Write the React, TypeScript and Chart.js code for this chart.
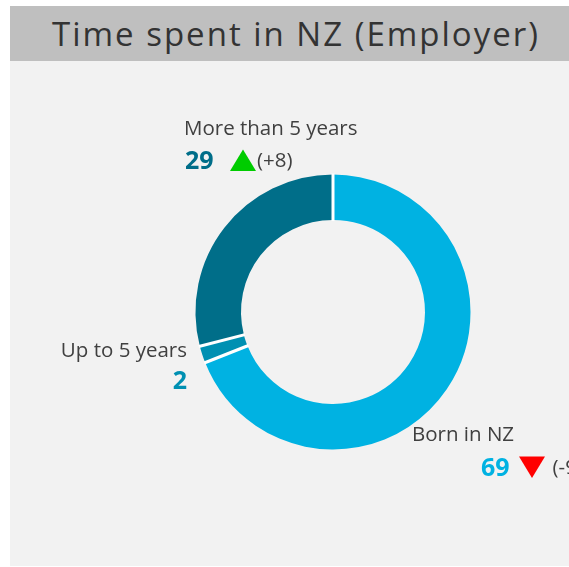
import React, { useEffect, useRef } from "react";
import { Chart, registerables } from "chart.js";

Chart.register(...registerables);

const TITLE = "Time spent in NZ (Employer)";
const categories = ["Born in NZ", "Up to 5 years", "More than 5 years"];
const values = [69, 2, 29];
const changes: (number | null)[] = [-9, null, 8];
const sliceColors = ["#00B2E2", "#0090B2", "#006E89"];

// label anchor offsets relative to doughnut centre (layout only)
const labelLayout = [
  { dx: 79, dy: 128.5, align: "left" as const, numDx: 148, numDy: 163.5, triDx: 186, chDx: 219.5 },
  { dx: -146, dy: 44.5, align: "right" as const, numDx: -146, numDy: 76.5, triDx: 0, chDx: 0 },
  { dx: -149, dy: -177.5, align: "left" as const, numDx: -148, numDy: -143.5, triDx: -103, chDx: -76 },
];

const FONT = "'Open Sans', sans-serif";

const separatorPlugin = {
  id: "separators",
  afterDatasetsDraw(chart: any) {
    const ctx = chart.ctx as CanvasRenderingContext2D;
    const arcs = chart.getDatasetMeta(0).data;
    ctx.save();
    ctx.strokeStyle = "#FFFFFF";
    ctx.lineWidth = 3;
    arcs.forEach((a: any) => {
      const p = a.getProps(["x", "y", "startAngle", "innerRadius", "outerRadius"], true);
      const cos = Math.cos(p.startAngle);
      const sin = Math.sin(p.startAngle);
      ctx.beginPath();
      ctx.moveTo(p.x + cos * (p.innerRadius - 1), p.y + sin * (p.innerRadius - 1));
      ctx.lineTo(p.x + cos * (p.outerRadius + 1), p.y + sin * (p.outerRadius + 1));
      ctx.stroke();
    });
    ctx.restore();
  },
};

const labelPlugin = {
  id: "sliceLabels",
  afterDraw(chart: any) {
    const ctx = chart.ctx as CanvasRenderingContext2D;
    const arc = chart.getDatasetMeta(0).data[0];
    if (!arc) return;
    const cx = arc.x;
    const cy = arc.y;
    ctx.save();
    ctx.textBaseline = "alphabetic";
    categories.forEach((cat, i) => {
      const lay = labelLayout[i];
      ctx.font = `20.5px ${FONT}`;
      ctx.fillStyle = "#404040";
      ctx.textAlign = lay.align;
      ctx.fillText(cat, cx + lay.dx, cy + lay.dy);
      ctx.font = `bold 25px ${FONT}`;
      ctx.fillStyle = sliceColors[i];
      ctx.textAlign = lay.align;
      const numY = cy + lay.numDy;
      ctx.fillText(String(values[i]), cx + lay.numDx, numY);
      const ch = changes[i];
      if (ch !== null && ch !== undefined) {
        const tx = cx + lay.triDx;
        const tw = 26;
        const th = 21.5;
        const top = numY - 19;
        ctx.beginPath();
        if (ch > 0) {
          ctx.moveTo(tx, top + th);
          ctx.lineTo(tx + tw, top + th);
          ctx.lineTo(tx + tw / 2, top);
          ctx.fillStyle = "#00CC00";
        } else {
          ctx.moveTo(tx, top);
          ctx.lineTo(tx + tw, top);
          ctx.lineTo(tx + tw / 2, top + th);
          ctx.fillStyle = "#FF0000";
        }
        ctx.closePath();
        ctx.fill();
        ctx.font = `20.5px ${FONT}`;
        ctx.fillStyle = "#404040";
        ctx.textAlign = "left";
        const chText = `(${ch > 0 ? "+" : "-"}${Math.abs(ch)})`;
        ctx.fillText(chText, cx + lay.chDx, numY - 1.5);
      }
    });
    ctx.restore();
  },
};

export default function App() {
  const ref = useRef<HTMLCanvasElement | null>(null);
  useEffect(() => {
    if (!ref.current) return;
    const chart = new Chart(ref.current, {
      type: "doughnut",
      data: {
        labels: categories,
        datasets: [
          {
            data: values,
            backgroundColor: sliceColors,
            borderWidth: 0,
            hoverOffset: 0,
          },
        ],
      },
      options: {
        responsive: false,
        animation: false,
        radius: 137.5,
        cutout: "66.9%",
        layout: { padding: { left: 150, right: 53, top: 120, bottom: 63 } },
        plugins: {
          legend: { display: false },
          tooltip: { enabled: false },
          title: { display: false },
        },
      } as any,
      plugins: [separatorPlugin, labelPlugin],
    });
    return () => chart.destroy();
  }, []);

  return (
    <div
      style={{
        position: "absolute",
        left: 0,
        top: 0,
        width: 569,
        height: 567,
        overflow: "hidden",
        background: "#FFFFFF",
      }}
    >
      <div
        style={{
          position: "absolute",
          left: 10,
          top: 6,
          width: 559,
          height: 560,
          background: "#F2F2F2",
        }}
      />
      <div
        style={{
          position: "absolute",
          left: 10,
          top: 6,
          width: 572,
          height: 55,
          background: "#BFBFBF",
          display: "flex",
          alignItems: "center",
          justifyContent: "center",
          fontFamily: FONT,
          fontSize: 33,
          letterSpacing: 2,
          color: "#333333",
          whiteSpace: "nowrap",
        }}
      >
        {TITLE}
      </div>
      <canvas
        ref={ref}
        width={569}
        height={567}
        style={{ position: "absolute", left: 0, top: 0, width: 569, height: 567 }}
      />
    </div>
  );
}
